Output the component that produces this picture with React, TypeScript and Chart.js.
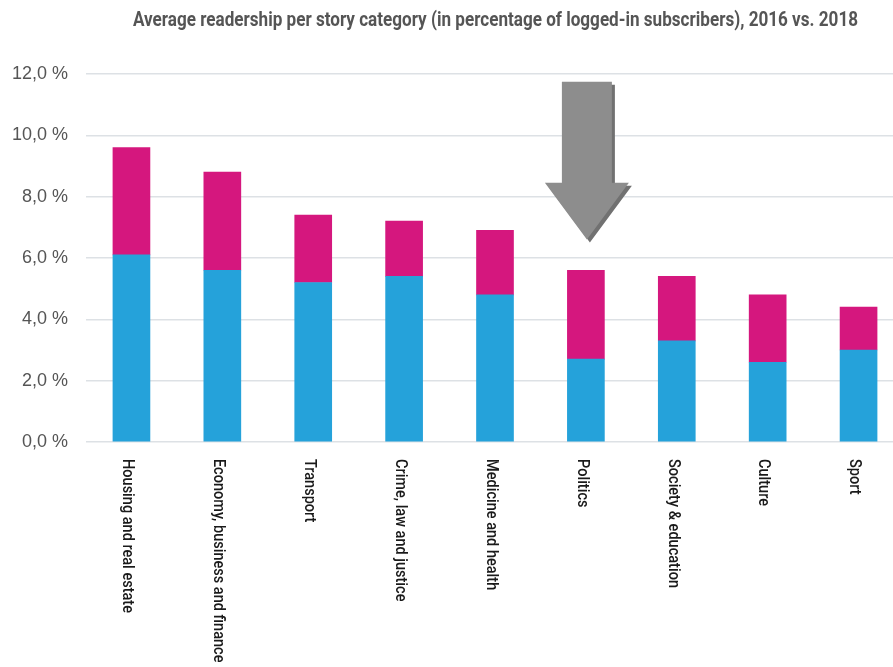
import React, { useEffect, useRef } from "react";
import { Chart, registerables } from "chart.js";

Chart.register(...registerables);

const TITLE = "Average readership per story category (in percentage of logged-in subscribers), 2016 vs. 2018";
const categories = [
  "Housing and real estate",
  "Economy, business and finance",
  "Transport",
  "Crime, law and justice",
  "Medicine and health",
  "Politics",
  "Society & education",
  "Culture",
  "Sport",
];
const baseValues = [6.1, 5.6, 5.2, 5.4, 4.8, 2.7, 3.3, 2.6, 3.0];
const topValues = [3.5, 3.2, 2.2, 1.8, 2.1, 2.9, 2.1, 2.2, 1.4];
const yTicks = [0, 2, 4, 6, 8, 10, 12];
const arrowCategory = 5;
const arrowTop = 11.75;
const arrowShoulder = 8.45;
const arrowTip = 6.6;

const BLUE = "#25a2da";
const MAGENTA = "#d5177e";
const FONT = "Roboto, 'Liberation Sans', sans-serif";

export default function App() {
  const ref = useRef<HTMLCanvasElement | null>(null);
  useEffect(() => {
    document.body.style.margin = "0";
    const canvas = ref.current!;
    const overlay = {
      id: "overlay",
      afterDatasetsDraw(chart: any) {
        const ctx = chart.ctx;
        const xs = chart.scales.x;
        const ys = chart.scales.y;
        const cx = xs.getPixelForValue(arrowCategory) + 1;
        const yT = ys.getPixelForValue(arrowTop);
        const yS = ys.getPixelForValue(arrowShoulder);
        const yP = ys.getPixelForValue(arrowTip);
        const drawArrow = () => {
          ctx.beginPath();
          ctx.moveTo(cx - 25, yT);
          ctx.lineTo(cx + 25, yT);
          ctx.lineTo(cx + 25, yS);
          ctx.lineTo(cx + 42, yS);
          ctx.lineTo(cx, yP);
          ctx.lineTo(cx - 42, yS);
          ctx.lineTo(cx - 25, yS);
          ctx.closePath();
        };
        ctx.save();
        ctx.translate(3, 3);
        ctx.fillStyle = "#717171";
        drawArrow();
        ctx.fill();
        ctx.restore();
        ctx.save();
        ctx.fillStyle = "#8d8d8d";
        drawArrow();
        ctx.fill();
        ctx.restore();
      },
      afterDraw(chart: any) {
        const ctx = chart.ctx;
        const xs = chart.scales.x;
        ctx.save();
        ctx.fillStyle = "#555555";
        ctx.font = `bold 21px ${FONT}`;
        ctx.textAlign = "left";
        ctx.textBaseline = "middle";
        const tw = ctx.measureText(TITLE).width;
        const tScale = 725 / tw;
        ctx.translate(133, 21);
        ctx.scale(tScale, 1);
        ctx.fillText(TITLE, 0, 0);
        ctx.restore();
        ctx.save();
        ctx.fillStyle = "#1a1a1a";
        ctx.font = `500 17px ${FONT}`;
        ctx.textAlign = "left";
        ctx.textBaseline = "middle";
        const lw = ctx.measureText(categories[0]).width;
        const lScale = 154 / lw;
        categories.forEach((c, i) => {
          const x = xs.getPixelForValue(i) - 4;
          ctx.save();
          ctx.translate(x, 459);
          ctx.rotate(Math.PI / 2);
          ctx.scale(lScale, 1);
          ctx.fillText(c, 0, 0);
          ctx.restore();
        });
        ctx.restore();
      },
    };
    const chart = new Chart(canvas, {
      type: "bar",
      data: {
        labels: categories,
        datasets: [
          { label: "2016", data: baseValues, backgroundColor: BLUE, barThickness: 37 },
          { label: "2018", data: topValues, backgroundColor: MAGENTA, barThickness: 37 },
        ],
      },
      options: {
        responsive: false,
        animation: false,
        layout: { padding: { top: 74, right: 6, left: 0, bottom: 0 } },
        plugins: { legend: { display: false }, title: { display: false }, tooltip: { enabled: false } },
        scales: {
          x: {
            stacked: true,
            grid: { display: false },
            border: { display: false },
            ticks: { display: false },
            afterFit(scale: any) {
              scale.height = 225;
            },
          },
          y: {
            stacked: true,
            min: 0,
            max: 12,
            afterBuildTicks(scale: any) {
              scale.ticks = yTicks.map((v) => ({ value: v }));
            },
            afterFit(scale: any) {
              scale.width = 86;
            },
            grid: { color: "#dde1e5", lineWidth: 1.5, drawTicks: false },
            border: { display: false },
            ticks: {
              padding: 18,
              color: "#555555",
              font: { family: "'Liberation Sans', Arial, sans-serif", size: 18 },
              callback: (v: any) => Number(v).toFixed(1).replace(".", ",") + " %",
            },
          },
        },
      },
      plugins: [overlay],
    });
    return () => chart.destroy();
  }, []);
  return (
    <div style={{ width: 893, height: 667, overflow: "hidden", position: "relative", background: "#fff" }}>
      <canvas ref={ref} width={910} height={667} style={{ display: "block" }} />
    </div>
  );
}
